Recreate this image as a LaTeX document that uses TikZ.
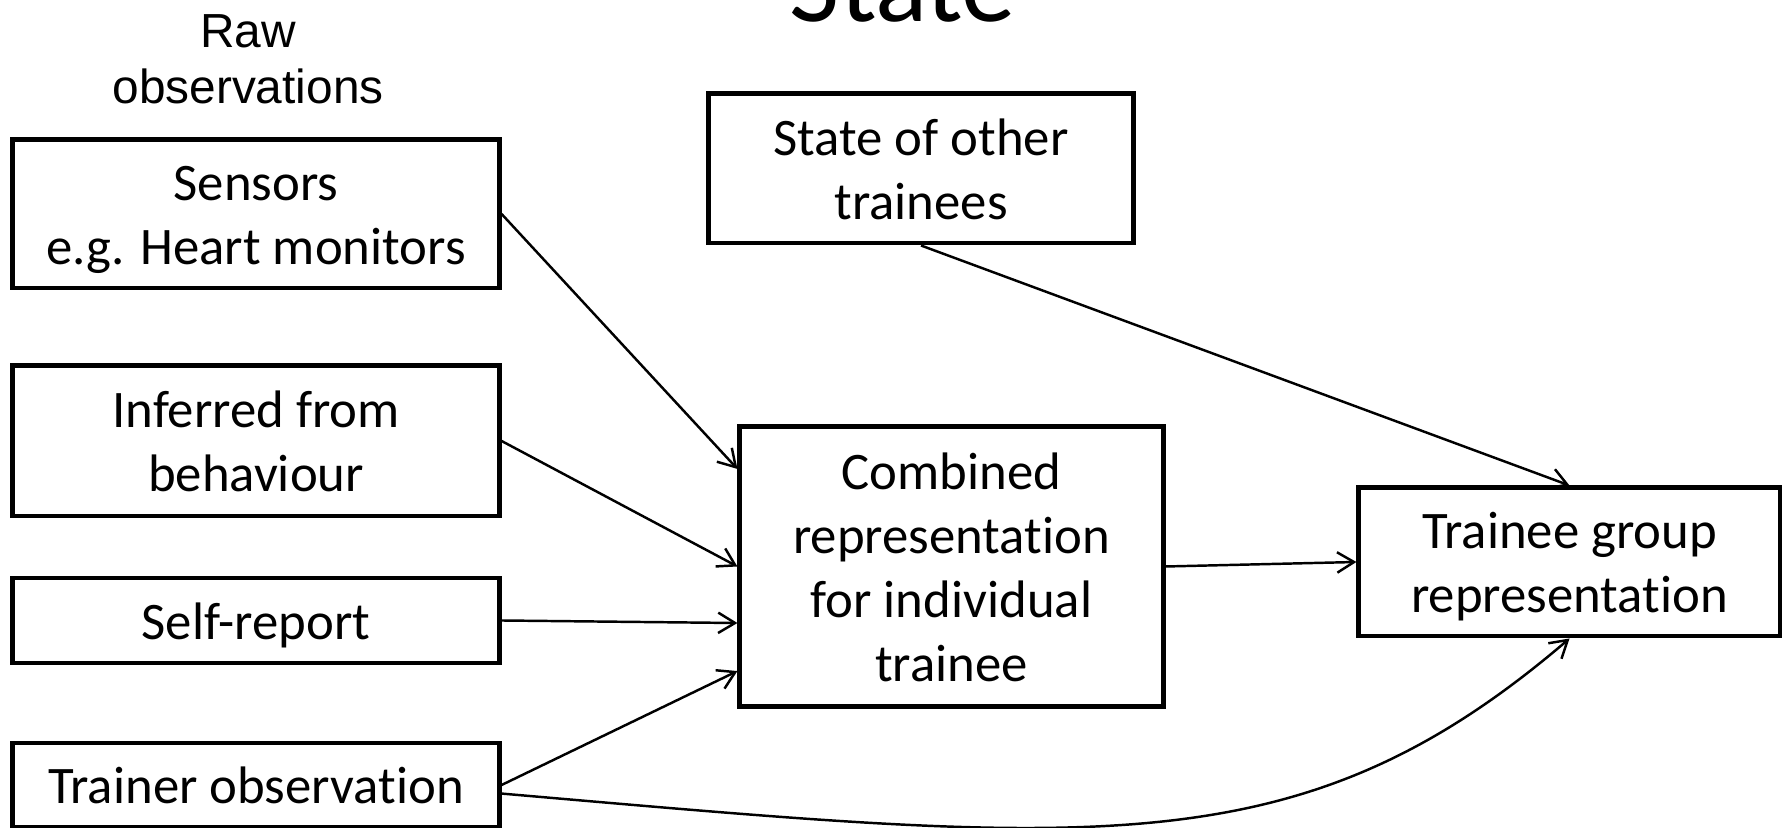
\documentclass[tikz,border=0pt]{standalone}
\usepackage{fontspec}
\setmainfont{Carlito}[Ligatures=NoCommon]
\newfontfamily\rawfont{Liberation Sans}
\usetikzlibrary{arrows.meta}
\tikzstyle{box}=[draw=black, line width=1.4pt, inner sep=0pt, align=center, text height=10.6pt, text depth=0pt, font=\fontsize{15}{18.2}\selectfont]
\tikzstyle{arrow}=[line width=0.7pt, -{Straight Barb[length=4.8pt,width=5.8pt]}]

\begin{document}
\begin{tikzpicture}[x=0.01cm, y=0.01cm]
    \useasboundingbox (0,0) rectangle (1782,828);

    \node (title) at (903, 806) [anchor=base, font=\fontsize{31}{36}\selectfont] {State};
    \node (raw) at (248, 769) [align=center, font=\rawfont\fontsize{13.6}{15.9}\selectfont] {Raw\\observations};

    \node (sensors)  at (256, 614)   [box, text height=28.8pt, minimum width=4.86cm, minimum height=1.48cm] {Sensors\\e.g. Heart monitors};
    \node (inferred) at (256, 387)   [box, text height=28.8pt, minimum width=4.86cm, minimum height=1.50cm] {Inferred from\\behaviour};
    \node (self)     at (256, 207.5) [box, minimum width=4.86cm, minimum height=0.85cm] {Self-report};
    \node (trainer)  at (256, 43)    [box, minimum width=4.86cm, minimum height=0.84cm] {Trainer observation};
    \node (others)   at (921, 659.5) [box, text height=28.8pt, minimum width=4.24cm, minimum height=1.49cm] {State of other\\trainees};
    \node (combined) at (951.5, 261.5) [box, text height=65.2pt, minimum width=4.23cm, minimum height=2.79cm] {Combined\\representation\\for individual\\trainee};
    \node (group)    at (1569.5, 266) [box, text height=28.8pt, minimum width=4.21cm, minimum height=1.48cm] {Trainee group\\representation};

    \draw (sensors.east) -- ([yshift=0.975cm]combined.west) [arrow];
    \draw (inferred.east) -- (combined.west) [arrow];
    \draw (self.east) -- ([yshift=-0.565cm]combined.west) [arrow];
    \draw (trainer.east) -- ([yshift=-1.045cm]combined.west) [arrow];

    \draw (combined.east) -- (group.west) [arrow];
    \draw (others.south) -- (group.north) [arrow];
    \draw (trainer.-2) .. controls (1096, -17) and (1300, -41) .. (group.south) [arrow];
\end{tikzpicture}
\end{document}
